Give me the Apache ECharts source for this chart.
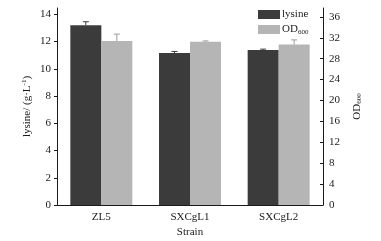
<!DOCTYPE html>
<html lang="en">
<head>
    <meta charset="UTF-8">
    <title>lysine / OD600</title>
    <style>
        html, body { margin: 0; padding: 0; background: #fff; }
        #main { width: 381px; height: 241px; }
    </style>
    <script src="https://cdn.jsdelivr.net/npm/echarts@6/dist/echarts.min.js"></script>
</head>
<body>
<div id="main"></div>
<script type="text/javascript">
    // data
    var strains = ['ZL5', 'SXCgL1', 'SXCgL2'];
    var lysine = [13.2, 11.15, 11.38];
    var lysineErr = [0.25, 0.12, 0.06];
    var od600 = [31.4, 31.25, 30.7];
    var od600Err = [1.3, 0.15, 0.9];
    var leftTicks = [0, 2, 4, 6, 8, 10, 12, 14];
    var rightTicks = [0, 4, 8, 12, 16, 20, 24, 28, 32, 36];

    var font = 'Liberation Serif';
    var dark = '#3b3b3b';
    var light = '#b5b5b5';
    var ink = '#1a1a1a';
    var barW = 31;

    // error bar drawn on top of each bar
    function errBar(vals, errs, side, color) {
        return function (params, api) {
            var i = api.value(0);
            var top = api.coord([i, vals[i] + errs[i]]);
            var base = api.coord([i, vals[i]]);
            var x = base[0] + side * barW / 2;
            return {
                type: 'group',
                children: [
                    { type: 'line', shape: { x1: x, y1: base[1], x2: x, y2: top[1] },
                      style: { stroke: color, lineWidth: 1 } },
                    { type: 'line', shape: { x1: x - 3, y1: top[1], x2: x + 3, y2: top[1] },
                      style: { stroke: color, lineWidth: 1 } }
                ]
            };
        };
    }

    var myChart = echarts.init(document.getElementById('main'));
    var option = {
        animation: false,
        textStyle: { fontFamily: font },
        grid: { left: 57, right: 58, top: 8, bottom: 36, outerBoundsMode: 'none', containLabel: false },
        legend: {
            left: 258, top: 9,
            padding: 0,
            orient: 'vertical',
            itemWidth: 22, itemHeight: 9, itemGap: 4,
            icon: 'rect',
            data: ['lysine', 'OD600'],
            formatter: function (n) { return n === 'OD600' ? 'OD{s|600}' : n; },
            textStyle: {
                fontFamily: font, fontSize: 11, color: ink, padding: [0, 0, 0, -3],
                rich: { s: { fontFamily: font, fontSize: 7, color: ink, verticalAlign: 'bottom', padding: [5, 0, 0, 0] } }
            }
        },
        xAxis: {
            type: 'category',
            data: strains,
            name: 'Strain',
            nameLocation: 'middle',
            nameGap: 22,
            nameMoveOverlap: false,
            nameTextStyle: { fontFamily: font, fontSize: 11, color: ink },
            axisLine: { lineStyle: { color: ink } },
            axisTick: { inside: true, length: 3, lineStyle: { color: ink } },
            axisLabel: { fontFamily: font, fontSize: 11, color: ink, margin: 7 }
        },
        yAxis: [{
            type: 'value',
            min: 0, max: 14.46,
            name: 'lysine/ (g·L{sup|-1})',
            nameLocation: 'middle',
            nameGap: 24,
            nameMoveOverlap: false,
            nameRotate: 90,
            nameTextStyle: {
                fontFamily: font, fontSize: 11, color: ink,
                rich: { sup: { fontFamily: font, fontSize: 7, color: ink, verticalAlign: 'top', padding: [0, 0, 5, 0] } }
            },
            splitLine: { show: false },
            axisLine: { show: true, lineStyle: { color: ink } },
            axisTick: { show: true, length: 3, customValues: leftTicks, lineStyle: { color: ink } },
            axisLabel: { fontFamily: font, fontSize: 11, color: ink, margin: 6, customValues: leftTicks }
        }, {
            type: 'value',
            position: 'right',
            min: 0, max: 37.7,
            name: 'OD{s|600}',
            nameLocation: 'middle',
            nameGap: 28,
            nameMoveOverlap: false,
            nameRotate: 90,
            nameTextStyle: {
                fontFamily: font, fontSize: 11, color: ink,
                rich: { s: { fontFamily: font, fontSize: 7, color: ink, verticalAlign: 'bottom', padding: [5, 0, 0, 0] } }
            },
            splitLine: { show: false },
            axisLine: { show: true, lineStyle: { color: ink } },
            axisTick: { show: true, inside: true, length: 3, customValues: rightTicks, lineStyle: { color: ink } },
            axisLabel: { fontFamily: font, fontSize: 11, color: ink, margin: 6, customValues: rightTicks }
        }],
        series: [{
            name: 'lysine',
            type: 'bar',
            barWidth: barW,
            barGap: '0%',
            itemStyle: { color: dark },
            data: lysine
        }, {
            name: 'OD600',
            type: 'bar',
            yAxisIndex: 1,
            barWidth: barW,
            barGap: '0%',
            itemStyle: { color: light },
            data: od600
        }, {
            type: 'custom',
            renderItem: errBar(lysine, lysineErr, -1, dark),
            data: strains.map(function (s, i) { return [i]; }),
            z: 5
        }, {
            type: 'custom',
            yAxisIndex: 1,
            renderItem: errBar(od600, od600Err, 1, '#9c9c9c'),
            data: strains.map(function (s, i) { return [i]; }),
            z: 5
        }]
    };
    myChart.setOption(option);
</script>
</body>
</html>
